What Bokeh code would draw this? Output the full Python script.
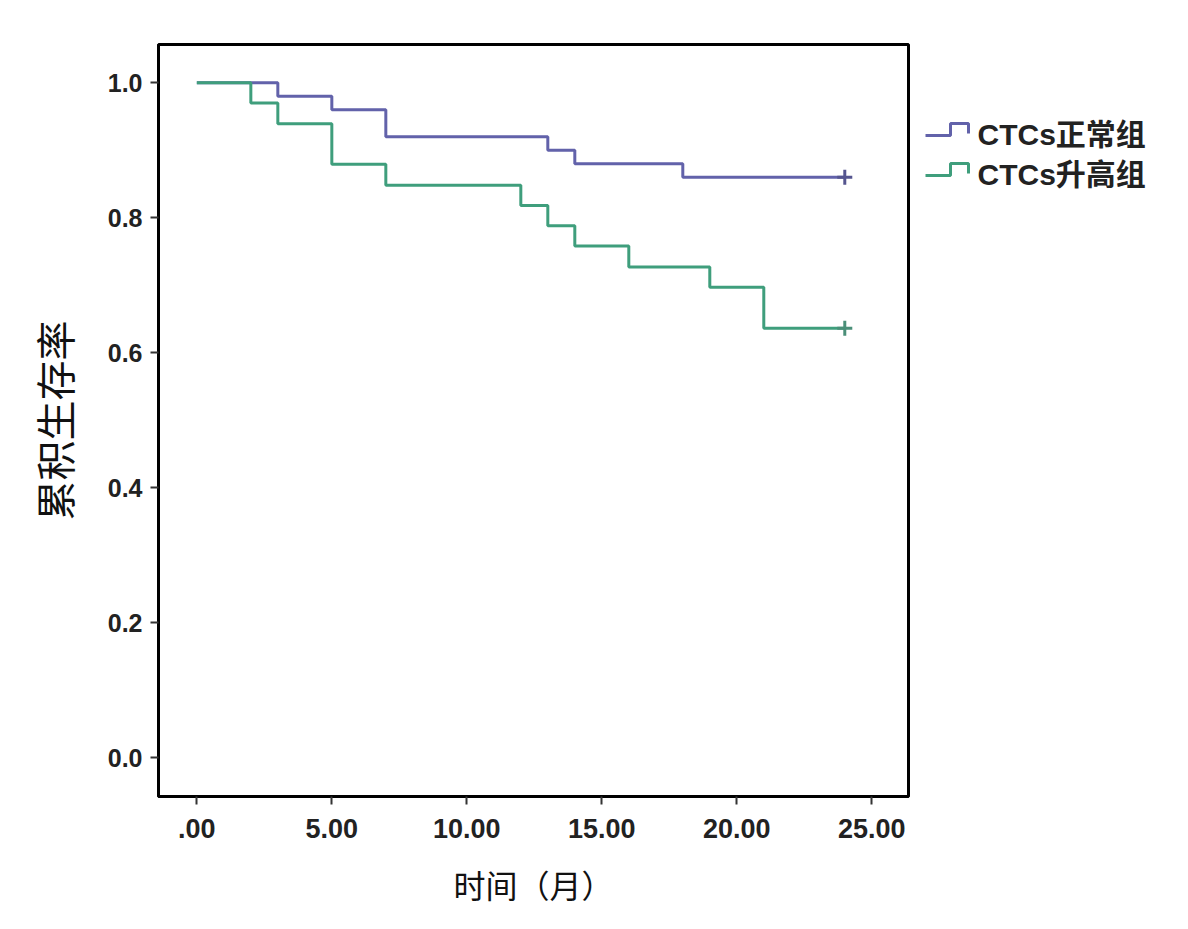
from bokeh.plotting import figure
from bokeh.layouts import row
from bokeh.models import Range1d, FixedTicker
from bokeh.core.properties import value
from bokeh.embed import file_html
from bokeh.resources import INLINE

# ---- data ----
normal_time = [0, 3, 5, 7, 13, 14, 18, 24]
normal_surv = [1.0, 0.98, 0.96, 0.92, 0.90, 0.88, 0.86, 0.86]
high_time = [0, 2, 3, 5, 7, 12, 13, 14, 16, 19, 21, 24]
high_surv = [1.0, 0.970, 0.939, 0.879, 0.848, 0.818, 0.788, 0.758, 0.727, 0.697, 0.636, 0.636]
censor_time = [24, 24]
censor_surv = [0.86, 0.636]
series_names = ["CTCs正常组", "CTCs升高组"]
series_colors = ["#6262aa", "#3f9e7c"]
x_ticks = [0, 5, 10, 15, 20, 25]
x_tick_labels = [".00", "5.00", "10.00", "15.00", "20.00", "25.00"]
y_ticks = [0.0, 0.2, 0.4, 0.6, 0.8, 1.0]
y_tick_labels = ["0.0", "0.2", "0.4", "0.6", "0.8", "1.0"]

H = 913
FRAME_TOP, FRAME_BOTTOM = 44, 796
CJK = "Noto Sans CJK SC"

p = figure(width=920, height=H, output_backend="svg", toolbar_location=None,
           x_range=Range1d(-1.42, 26.36), y_range=Range1d(-0.0577, 1.0566),
           min_border_left=158, min_border_top=FRAME_TOP, min_border_right=12,
           min_border_bottom=H - FRAME_BOTTOM)
p.grid.visible = False
p.background_fill_color = "white"
p.border_fill_color = "white"
p.outline_line_color = "black"
p.outline_line_width = 3

p.xaxis.ticker = FixedTicker(ticks=x_ticks)
p.xaxis.major_label_overrides = {t: l for t, l in zip(x_ticks, x_tick_labels)}
p.yaxis.ticker = FixedTicker(ticks=y_ticks)
p.yaxis.major_label_overrides = {t: l for t, l in zip(y_ticks, y_tick_labels)}
for ax in (p.xaxis[0], p.yaxis[0]):
    ax.axis_line_color = "black"
    ax.axis_line_width = 3
    ax.major_tick_in = 0
    ax.major_tick_out = 8
    ax.major_tick_line_width = 2
    ax.major_tick_line_color = "#333333"
    ax.minor_tick_line_color = None
    ax.major_label_text_font = "Liberation Sans"
    ax.major_label_text_font_style = "bold"
    ax.major_label_text_color = "#222222"
    ax.axis_label_text_font = CJK
    ax.axis_label_text_font_style = "normal"
    ax.axis_label_text_color = "#111111"

p.xaxis.axis_label = "时间（月）"
p.xaxis.axis_label_text_font_size = "32px"
p.xaxis.major_label_text_font_size = "27px"
p.xaxis.major_label_standoff = 14
p.xaxis.axis_label_standoff = 20
p.yaxis.axis_label = "累积生存率"
p.yaxis.axis_label_text_font_size = "40px"
p.yaxis.major_label_text_font_size = "25px"
p.yaxis.major_label_standoff = 8
p.yaxis.axis_label_standoff = 22

p.step(normal_time, normal_surv, mode="after", line_color=series_colors[0], line_width=3)
p.step(high_time, high_surv, mode="after", line_color=series_colors[1], line_width=3)
p.scatter(censor_time[:1], censor_surv[:1], marker="cross", size=15,
          line_color="#55558f", line_width=3)
p.scatter(censor_time[1:], censor_surv[1:], marker="cross", size=15,
          line_color="#4a8f78", line_width=3)

# ---- legend panel (step-shaped icons as in the reference) ----
# frames in a row are aligned, so the legend's y range maps to page pixels
lg = figure(width=260, height=H, output_backend="svg", toolbar_location=None,
            x_range=Range1d(0, 260), y_range=Range1d(FRAME_BOTTOM, FRAME_TOP),
            x_axis_type=None, y_axis_type=None,
            min_border=0, outline_line_color=None)
lg.title = None
lg.grid.visible = False
lg.background_fill_color = "white"
lg.border_fill_color = "white"
for i, (name, col) in enumerate(zip(series_names, series_colors)):
    y0 = 135 + 40 * i
    lg.line([5, 30, 30, 48, 48], [y0, y0, y0 - 12, y0 - 12, y0 - 2],
            line_color=col, line_width=3)
    lg.text([57], [y0 - 1], text=[name], text_font=value("Liberation Sans, Noto Sans CJK SC"),
            text_font_style="bold", text_font_size="30px", text_color="#222222",
            text_baseline="middle", text_align="left")

layout = row(p, lg, spacing=0)
open("out.html", "w").write(file_html(layout, INLINE))
